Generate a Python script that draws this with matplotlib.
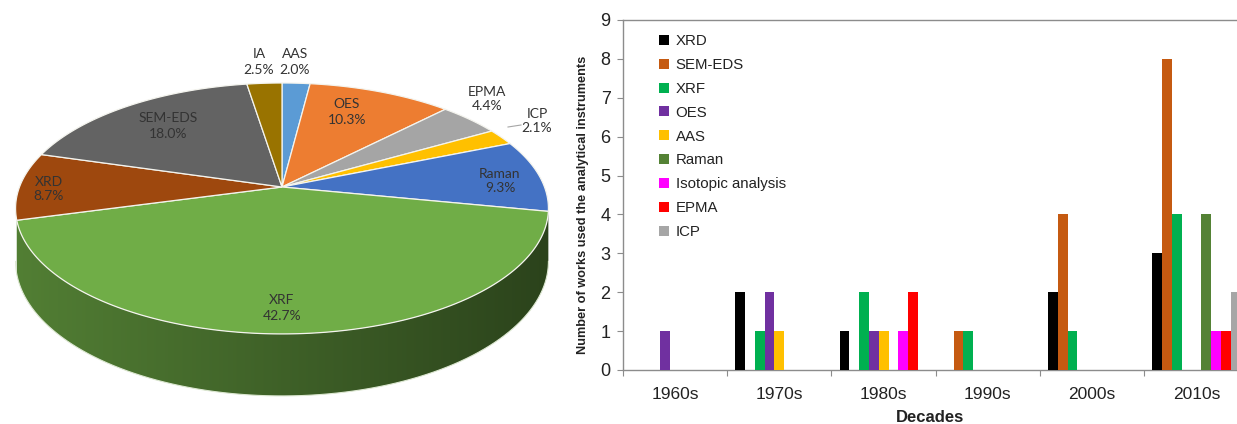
import numpy as np
import matplotlib
matplotlib.use('Agg')
import matplotlib.pyplot as plt
import matplotlib.colors as mcolors
from matplotlib.patches import Polygon


# --- pie data, clockwise from 12 o'clock

pie_labels = ['AAS', 'OES', 'EPMA', 'ICP', 'Raman', 'XRF', 'XRD', 'SEM-EDS', 'IA']
pie_share = [2.0, 10.3, 4.4, 2.1, 9.3, 42.7, 8.7, 18.0, 2.5]  # %
pie_colors = ['#5B9BD5', '#ED7D31', '#A5A5A5', '#FFC000', '#4472C4',
              '#70AD47', '#9E480E', '#636363', '#997300']

# --- bar data

decades = ['1960s', '1970s', '1980s', '1990s', '2000s', '2010s']
instruments = ['XRD', 'SEM-EDS', 'XRF', 'OES', 'AAS', 'Raman',
               'Isotopic analysis', 'EPMA', 'ICP']
xrd = [0, 2, 1, 0, 2, 3]
sem_eds = [0, 0, 0, 1, 4, 8]
xrf = [0, 1, 2, 1, 1, 4]
oes = [1, 2, 1, 0, 0, 0]
aas = [0, 1, 1, 0, 0, 0]
raman = [0, 0, 0, 0, 0, 4]
isotopic = [0, 0, 1, 0, 0, 1]
epma = [0, 0, 2, 0, 0, 1]
icp = [0, 0, 0, 0, 0, 2]
bar_colors = ['#000000', '#C55A11', '#00B050', '#7030A0', '#FFC000',
              '#548235', '#FF00FF', '#FF0000', '#A6A6A6']

counts = [xrd, sem_eds, xrf, oes, aas, raman, isotopic, epma, icp]


W, H = 1237, 424
fig = plt.figure(figsize=(W/100, H/100), dpi=100)


# ------------------
# 3D pie, drawn in pixel coordinates with a simple perspective tilt

ax_pie = fig.add_axes((0, 0, 560/W, 1))
ax_pie.axis('off')

cx, cy = 282., 187.     # apex
A, B, k = 262.5, 121.8, 0.171
depth = 51.4


def proj(t_deg):
    t = np.radians(t_deg)
    u, v = np.cos(t), np.sin(t)
    w = 1 + k*v
    return cx + A*u/w, cy - B*v/w, w


cum = np.concatenate([[0], np.cumsum(pie_share)])
t_start = 90 - 3.6*cum[:-1]
t_end = 90 - 3.6*cum[1:]

# visible wall: between the two silhouette points of the ellipse
t_sil = np.degrees(np.arcsin(k))
wall_lo, wall_hi = -180 + t_sil, -t_sil

xg = np.linspace(0, 560, 400)
shade = 0.56 - 0.17*np.clip((xg - cx)/A, -1, 1)

for i in range(len(pie_share)):
    lo, hi = max(t_end[i], wall_lo), min(t_start[i], wall_hi)
    if hi - lo < 6:   # slivers at the silhouette are hidden by perspective
        continue
    lo, hi = max(t_end[i], -180), min(t_start[i], 0)
    ts = np.linspace(lo, hi, 200)
    xs, ys, ws = proj(ts)
    verts = np.r_[np.c_[xs, ys], np.c_[xs, ys + depth/ws][::-1]]
    wall = Polygon(verts, closed=True, fc='none', ec='none')
    ax_pie.add_patch(wall)
    base = np.array(mcolors.to_rgb(pie_colors[i]))
    grad = np.clip(base[None, None, :]*shade[None, :, None], 0, 1)
    im = ax_pie.imshow(grad, extent=(0, 560, 424, 0), aspect='auto',
                       interpolation='bilinear', zorder=1)
    im.set_clip_path(wall)

# thin light rim along the bottom of the wall
tb = np.linspace(wall_lo, wall_hi, 200)
xr, yr, wr = proj(tb)
ax_pie.plot(xr, yr + depth/wr, color='#DDE8D2', lw=0.8, zorder=1.5)

# --- top face
for i in range(len(pie_share)):
    ts = np.linspace(t_start[i], t_end[i], int(abs(t_start[i] - t_end[i])*2) + 2)
    xs, ys, _ = proj(ts)
    ax_pie.fill(np.r_[cx, xs], np.r_[cy, ys], color=pie_colors[i],
                ec='#F4F4EE', lw=0.9, zorder=2)

# --- data labels (name + share), Excel-like placement
label_pos = {'IA': (259, 62), 'AAS': (295, 62), 'OES': (347, 112),
             'EPMA': (487, 99), 'ICP': (537, 121), 'Raman': (500, 181),
             'XRF': (282, 308), 'XRD': (49, 189), 'SEM-EDS': (168, 126)}
for name, share in zip(pie_labels, pie_share):
    px, py = label_pos[name]
    ax_pie.text(px, py, f'{name}\n{share:.1f}%', ha='center', va='center',
                fontsize=10, family=['Lato', 'DejaVu Sans'], color='#333333',
                linespacing=1.3, zorder=5)

# leader line for ICP
ax_pie.plot([508, 521], [127, 125], color='#A6A6A6', lw=0.8, zorder=5)

ax_pie.set_xlim(0, 560)
ax_pie.set_ylim(H, 0)


# ------------------
# grouped bar chart

narrow = ['Liberation Sans Narrow', 'Liberation Sans', 'DejaVu Sans']

left, bottom = 623/W, 1 - 370/H
ax = fig.add_axes((left, bottom, 1 - left, (370 - 20)/H))

x = np.arange(len(decades))
bw = 0.094
bars = []
for i, (name, vals) in enumerate(zip(instruments, counts)):
    b = ax.bar(x + (i - 4)*bw, vals, width=bw, color=bar_colors[i], label=name,
               linewidth=0, zorder=3)
    bars.append(b)

ax.set_yticks(range(10))
ax.set_xticks(x)
ax.set_xticklabels(decades)
ax.set_xticks(np.arange(-0.5, 6, 1), minor=True)
ax.set_xlim(-0.5, 5.39)   # the chart is cut on the right, as in the source
ax.set_ylim(0, 9)

ax.tick_params(axis='x', which='major', length=0, pad=12, labelsize=12.5, labelcolor='#222222')
ax.tick_params(axis='x', which='minor', length=4, color='#8C8C8C', width=0.8)
ax.tick_params(axis='y', length=4, color='#8C8C8C', width=0.8, pad=5, labelsize=13,
               labelcolor='#222222')
for lab in ax.get_xticklabels() + ax.get_yticklabels():
    lab.set_family(narrow)

for side in ['left', 'bottom', 'top']:
    ax.spines[side].set_color('#8C8C8C')
    ax.spines[side].set_linewidth(1.0)
ax.spines['right'].set_visible(False)

ax.set_xlabel('Decades', fontsize=12, fontweight='bold', family=narrow, labelpad=6,
              color='#222222')
fig.text(583/W, 1 - 205/H, 'Number of works used the analytical instruments',
         rotation=90, ha='center', va='center', fontsize=9.2, fontweight='bold',
         family=narrow, color='#222222')

leg = ax.legend(handles=bars, loc='upper left', bbox_to_anchor=(659/W, 1 - 34/H),
                bbox_transform=fig.transFigure, frameon=False, borderaxespad=0,
                borderpad=0, handlelength=0.65, handleheight=0.65, handletextpad=0.45,
                labelspacing=0.66, prop={'family': narrow, 'size': 10.8})
for t in leg.get_texts():
    t.set_color('#222222')

fig.savefig('out.png', dpi=100)
